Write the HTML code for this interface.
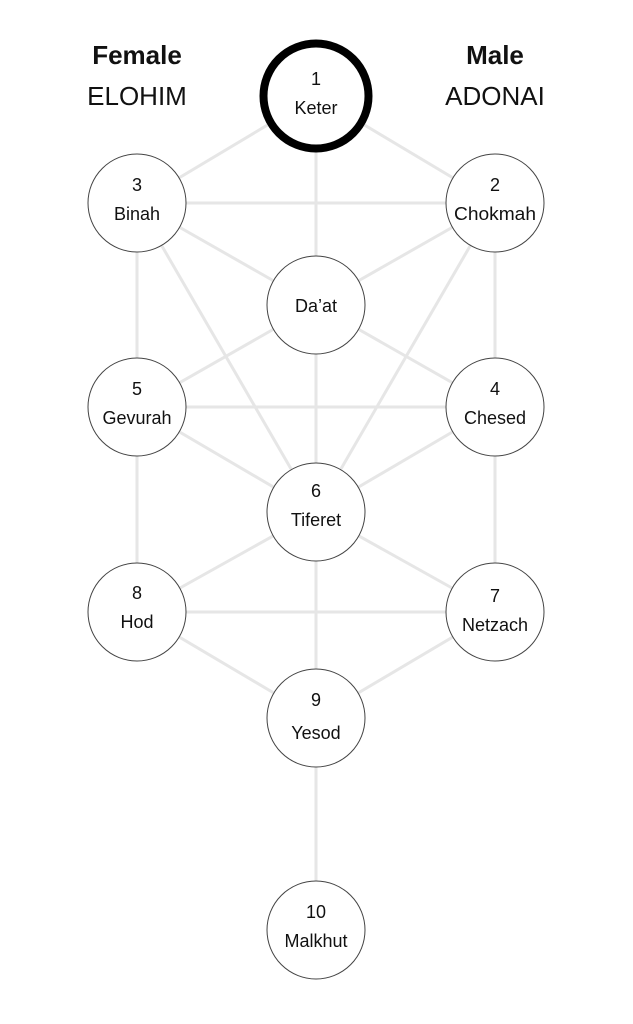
<!DOCTYPE html>
<html><head><meta charset="utf-8"><style>
html,body{margin:0;padding:0;background:#fff;width:633px;height:1024px;overflow:hidden}
svg{display:block}
text{font-family:"Liberation Sans",sans-serif;fill:#111}
</style></head><body>
<svg width="633" height="1024" viewBox="0 0 633 1024">
<g stroke="#e6e6e6" stroke-width="3" fill="none">
<line x1="316" y1="96" x2="137" y2="203"/>
<line x1="316" y1="96" x2="495" y2="203"/>
<line x1="316" y1="96" x2="316" y2="305"/>
<line x1="137" y1="203" x2="495" y2="203"/>
<line x1="137" y1="203" x2="316" y2="305"/>
<line x1="495" y1="203" x2="316" y2="305"/>
<line x1="137" y1="203" x2="137" y2="407"/>
<line x1="495" y1="203" x2="495" y2="407"/>
<line x1="137" y1="203" x2="316" y2="512"/>
<line x1="495" y1="203" x2="316" y2="512"/>
<line x1="316" y1="305" x2="137" y2="407"/>
<line x1="316" y1="305" x2="495" y2="407"/>
<line x1="316" y1="305" x2="316" y2="512"/>
<line x1="137" y1="407" x2="495" y2="407"/>
<line x1="137" y1="407" x2="316" y2="512"/>
<line x1="495" y1="407" x2="316" y2="512"/>
<line x1="137" y1="407" x2="137" y2="612"/>
<line x1="495" y1="407" x2="495" y2="612"/>
<line x1="316" y1="512" x2="137" y2="612"/>
<line x1="316" y1="512" x2="495" y2="612"/>
<line x1="316" y1="512" x2="316" y2="718"/>
<line x1="137" y1="612" x2="495" y2="612"/>
<line x1="137" y1="612" x2="316" y2="718"/>
<line x1="495" y1="612" x2="316" y2="718"/>
<line x1="316" y1="718" x2="316" y2="930"/>
</g>
<circle cx="316" cy="96" r="52.5" fill="#fff" stroke="#000" stroke-width="8"/>
<g fill="#fff" stroke="#444" stroke-width="1">
<circle cx="137" cy="203" r="49"/>
<circle cx="495" cy="203" r="49"/>
<circle cx="316" cy="305" r="49"/>
<circle cx="137" cy="407" r="49"/>
<circle cx="495" cy="407" r="49"/>
<circle cx="316" cy="512" r="49"/>
<circle cx="137" cy="612" r="49"/>
<circle cx="495" cy="612" r="49"/>
<circle cx="316" cy="718" r="49"/>
<circle cx="316" cy="930" r="49"/>
</g>
<g font-size="18" text-anchor="middle">
<text x="316" y="85">1</text><text x="316" y="114">Keter</text>
<text x="137" y="191">3</text><text x="137" y="220">Binah</text>
<text x="495" y="191">2</text><text x="495" y="220" textLength="82" lengthAdjust="spacingAndGlyphs">Chokmah</text>
<text x="316" y="312">Da’at</text>
<text x="137" y="395">5</text><text x="137" y="424">Gevurah</text>
<text x="495" y="395">4</text><text x="495" y="424">Chesed</text>
<text x="316" y="497">6</text><text x="316" y="526">Tiferet</text>
<text x="137" y="599">8</text><text x="137" y="628">Hod</text>
<text x="495" y="602">7</text><text x="495" y="631">Netzach</text>
<text x="316" y="706">9</text><text x="316" y="739">Yesod</text>
<text x="316" y="918">10</text><text x="316" y="947">Malkhut</text>
</g>
<g text-anchor="middle" font-size="26">
<text x="137" y="64" font-weight="bold">Female</text>
<text x="137" y="105">ELOHIM</text>
<text x="495" y="64" font-weight="bold">Male</text>
<text x="495" y="105">ADONAI</text>
</g>
</svg>
</body></html>
